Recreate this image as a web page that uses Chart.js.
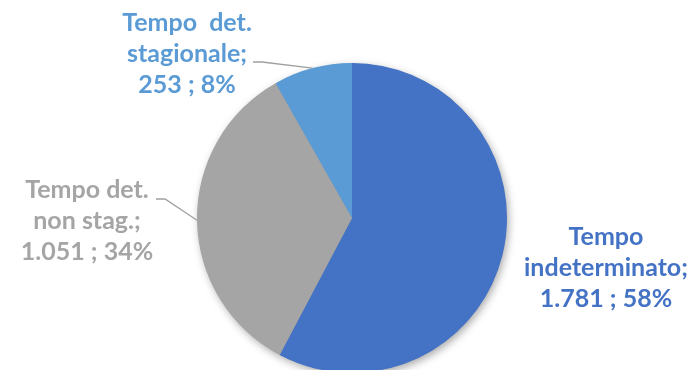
<!DOCTYPE html>
<html>
<head>
<meta charset="utf-8">
<script src="https://cdn.jsdelivr.net/npm/chart.js@4/dist/chart.umd.min.js"></script>
<style>
  html, body { margin: 0; padding: 0; background: #fff; overflow: hidden; }
  #wrap { width: 692px; height: 370px; overflow: hidden; }
</style>
</head>
<body>
<div id="wrap"><canvas id="pie" width="692" height="400"></canvas></div>
<script>
// contratti per tipologia
const categories = ['Tempo indeterminato', 'Tempo det. non stag.', 'Tempo det. stagionale'];
const values = [1781, 1051, 253];
const percents = [58, 34, 8];
const labelLines = [
  ['Tempo', 'indeterminato;', '1.781 ; 58%'],
  ['Tempo det.', 'non stag.;', '1.051 ; 34%'],
  ['Tempo  det.', 'stagionale;', '253 ; 8%']
];
const colors = ['#4472C4', '#A5A5A5', '#5B9BD5'];

// label placement relative to pie centre: text centre x, first baseline y, optional leader knee
const labelLayout = [
  { x: 254, y: 27, knee: null },
  { x: -265, y: -20, knee: [[-187, -19], [-196, -19]] },
  { x: -165, y: -187, knee: [[-90, -156], [-99, -156]] }
];

const pieShadow = {
  id: 'pieShadow',
  beforeDatasetsDraw(chart) {
    const arc = chart.getDatasetMeta(0).data[0];
    if (!arc) return;
    const ctx = chart.ctx;
    ctx.save();
    ctx.shadowColor = 'rgba(0,0,0,0.35)';
    ctx.shadowBlur = 9;
    ctx.shadowOffsetX = 2;
    ctx.shadowOffsetY = 3;
    ctx.fillStyle = '#999';
    ctx.beginPath();
    ctx.arc(arc.x, arc.y, arc.outerRadius - 0.5, 0, Math.PI * 2);
    ctx.fill();
    ctx.restore();
  }
};

const outsideLabels = {
  id: 'outsideLabels',
  afterDatasetsDraw(chart) {
    const ctx = chart.ctx;
    const meta = chart.getDatasetMeta(0);
    ctx.save();
    ctx.font = 'bold 25px Lato';
    ctx.textAlign = 'center';
    ctx.textBaseline = 'alphabetic';
    meta.data.forEach((arc, i) => {
      const cx = arc.x, cy = arc.y;
      const lay = labelLayout[i];
      if (lay.knee) {
        const mid = (arc.startAngle + arc.endAngle) / 2;
        const ex = cx + Math.cos(mid) * arc.outerRadius;
        const ey = cy + Math.sin(mid) * arc.outerRadius;
        ctx.strokeStyle = '#A0A0A0';
        ctx.lineWidth = 1.3;
        ctx.beginPath();
        ctx.moveTo(ex, ey);
        lay.knee.forEach(p => ctx.lineTo(cx + p[0], cy + p[1]));
        ctx.stroke();
      }
      ctx.fillStyle = colors[i];
      labelLines[i].forEach((t, k) => {
        ctx.fillText(t, cx + lay.x, cy + lay.y + k * 31);
      });
    });
    ctx.restore();
  }
};

new Chart(document.getElementById('pie'), {
  type: 'pie',
  data: {
    labels: categories,
    datasets: [{
      data: values,
      backgroundColor: colors,
      borderWidth: 0
    }]
  },
  options: {
    responsive: false,
    animation: false,
    layout: { padding: { left: 197, right: 185, top: 63, bottom: 27 } },
    plugins: {
      legend: { display: false },
      tooltip: { enabled: false }
    }
  },
  plugins: [pieShadow, outsideLabels]
});
</script>
</body>
</html>
